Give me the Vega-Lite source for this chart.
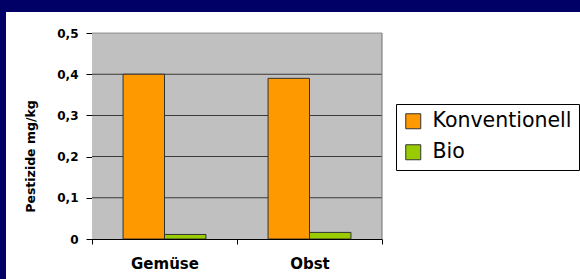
{
  "$schema": "https://vega.github.io/schema/vega-lite/v6.json",
  "width": 574,
  "height": 267,
  "padding": {"left": 6, "top": 12, "right": 0, "bottom": 0},
  "autosize": {"type": "pad"},
  "background": "#000066",
  "config": {
    "font": "DejaVu Sans",
    "view": {"fill": "white", "stroke": null}
  },
  "datasets": {
    "werte": [
      {"Kategorie": "Gemüse", "Typ": "Konventionell", "Wert": 0.40},
      {"Kategorie": "Gemüse", "Typ": "Bio", "Wert": 0.011},
      {"Kategorie": "Obst", "Typ": "Konventionell", "Wert": 0.39},
      {"Kategorie": "Obst", "Typ": "Bio", "Wert": 0.016}
    ],
    "flaeche": [
      {"Kategorie": "Gemüse"},
      {"Kategorie": "Obst"}
    ],
    "raster": [
      {"Kategorie": "Gemüse", "v": 0.1},
      {"Kategorie": "Gemüse", "v": 0.2},
      {"Kategorie": "Gemüse", "v": 0.3},
      {"Kategorie": "Gemüse", "v": 0.4},
      {"Kategorie": "Gemüse", "v": 0.5},
      {"Kategorie": "Obst", "v": 0.1},
      {"Kategorie": "Obst", "v": 0.2},
      {"Kategorie": "Obst", "v": 0.3},
      {"Kategorie": "Obst", "v": 0.4},
      {"Kategorie": "Obst", "v": 0.5}
    ],
    "rand": [
      {"Kategorie": "Obst"}
    ]
  },
  "layer": [
    {
      "data": {"name": "flaeche"},
      "mark": {"type": "rect", "fill": "#c0c0c0"},
      "encoding": {
        "x": {"field": "Kategorie", "type": "nominal"},
        "y": {"datum": 0, "type": "quantitative"},
        "y2": {"datum": 0.5}
      }
    },
    {
      "data": {"name": "raster"},
      "mark": {"type": "tick", "orient": "horizontal", "thickness": 1, "size": 145},
      "encoding": {
        "x": {"field": "Kategorie", "type": "nominal"},
        "y": {"field": "v", "type": "quantitative"},
        "color": {"condition": {"test": "datum.v == 0.5", "value": "#707070"}, "value": "black"}
      }
    },
    {
      "data": {"name": "rand"},
      "mark": {"type": "rule", "color": "#707070", "strokeWidth": 1},
      "encoding": {
        "x": {"field": "Kategorie", "type": "nominal", "bandPosition": 1},
        "y": {"datum": 0.5, "type": "quantitative"},
        "y2": {"datum": 0}
      }
    },
    {
      "data": {"name": "werte"},
      "mark": {"type": "bar", "stroke": "#333333", "strokeWidth": 1},
      "encoding": {
        "x": {
          "field": "Kategorie",
          "type": "nominal",
          "sort": ["Gemüse", "Obst"],
          "scale": {"domain": ["Gemüse", "Obst"], "range": [86, 376], "paddingInner": 0, "paddingOuter": 0},
          "axis": {
            "title": null,
            "orient": "bottom",
            "offset": -40,
            "tickBand": "extent",
            "labelAngle": 0,
            "labelAlign": "center",
            "tickSize": 5,
            "tickColor": "black",
            "domainColor": "black",
            "labelFont": "DejaVu Sans",
            "labelFontSize": 15,
            "labelFontWeight": "bold",
            "labelColor": "black",
            "labelPadding": 12,
            "labelBaseline": "top",
            "grid": false
          }
        },
        "xOffset": {
          "field": "Typ",
          "type": "nominal",
          "sort": ["Konventionell", "Bio"],
          "scale": {"domain": ["Konventionell", "Bio"], "paddingInner": 0, "paddingOuter": 0.75}
        },
        "y": {
          "field": "Wert",
          "type": "quantitative",
          "scale": {"domain": [0, 0.5], "range": [227, 21], "nice": false},
          "axis": {
            "title": "Pestizide mg/kg",
            "orient": "left",
            "offset": -86,
            "values": [0, 0.1, 0.2, 0.3, 0.4, 0.5],
            "labelExpr": "replace(format(datum.value, '.1~f'), '.', ',')",
            "grid": false,
            "tickSize": 6,
            "tickColor": "black",
            "domainColor": "black",
            "labelFont": "DejaVu Sans",
            "labelFontSize": 12,
            "labelFontWeight": "bold",
            "labelColor": "black",
            "labelPadding": 8,
            "titleFont": "DejaVu Sans",
            "titleFontSize": 12.5,
            "titleFontWeight": "bold",
            "titleColor": "black",
            "titleAngle": -90,
            "titleAlign": "center",
            "titleBaseline": "bottom",
            "titleX": -55,
            "titleY": 144
          }
        },
        "color": {
          "field": "Typ",
          "type": "nominal",
          "scale": {"domain": ["Konventionell", "Bio"], "range": ["#FF9900", "#99CC00"]},
          "legend": {
            "title": null,
            "orient": "none",
            "legendX": 390,
            "legendY": 92,
            "fillColor": "white",
            "strokeColor": "black",
            "padding": 7,
            "symbolType": "square",
            "symbolSize": 225,
            "symbolStrokeColor": "#333333",
            "symbolStrokeWidth": 1,
            "symbolOpacity": 1,
            "labelFont": "DejaVu Sans",
            "labelFontSize": 20.5,
            "labelColor": "black",
            "labelOffset": 9,
            "labelLimit": 400,
            "rowPadding": 10
          }
        }
      }
    }
  ]
}
